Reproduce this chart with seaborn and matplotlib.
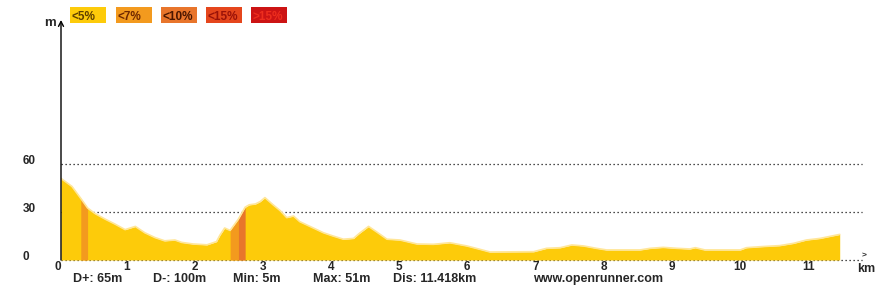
import numpy as np
import pandas as pd
import matplotlib
matplotlib.use("Agg")
import matplotlib.pyplot as plt
import seaborn as sns
from matplotlib.patches import Rectangle
from matplotlib.transforms import ScaledTranslation

# ---------------- data ----------------
km = [0.00, 0.16, 0.29, 0.39, 0.50, 0.65, 0.79, 0.94, 1.09, 1.23, 1.38, 1.52,
      1.67, 1.77, 1.94, 2.14, 2.28, 2.33, 2.40, 2.48, 2.60, 2.70, 2.76, 2.85,
      2.92, 2.99, 3.11, 3.21, 3.31, 3.41, 3.50, 3.65, 3.85, 3.99, 4.14, 4.29,
      4.37, 4.51, 4.63, 4.78, 4.97, 5.22, 5.46, 5.70, 5.95, 6.14, 6.29, 6.93,
      7.12, 7.32, 7.49, 7.66, 7.85, 8.00, 8.49, 8.64, 8.83, 9.03, 9.22, 9.30,
      9.44, 9.96, 10.05, 10.25, 10.54, 10.74, 10.93, 11.13, 11.418]
elev = [51, 46, 38.5, 32.5, 29, 25.5, 22.5, 19, 21, 17, 14, 12,
        12.5, 11, 10, 9.5, 11.5, 15.5, 20, 18.5, 25.5, 33, 34.5, 35,
        36.5, 39, 34.5, 31, 26.5, 27.5, 24, 21, 17, 15, 13, 13.5,
        16.5, 21, 17.5, 13, 12.5, 10, 9.8, 10.8, 8.8, 6.7, 5, 5.2,
        7.3, 7.7, 9.4, 8.8, 7.3, 6.3, 6.3, 7.3, 7.9, 7.3, 6.9, 7.7,
        6.3, 6.3, 7.7, 8.3, 9, 10.4, 12.5, 13.5, 16]

slope_classes = ["<5%", "<7%", "<10%", "<15%", ">15%"]
class_colors = ["#FDCB0A", "#F39A1E", "#E8752B", "#E5461C", "#CC1414"]
class_text_colors = ["#5e4000", "#702800", "#4a1600", "#9a1208", "#EE2E1E"]

band_start = [0.29, 2.48, 2.60]
band_end = [0.39, 2.60, 2.70]
band_class = ["<7%", "<7%", "<10%"]

xticks = list(range(12))
yticks = [0, 30, 60]

stats_labels = ["D+: 65m", "D-: 100m", "Min: 5m", "Max: 51m",
                "Dis: 11.418km", "www.openrunner.com"]

# ---------------- style ----------------
sns.set_style("white")
plt.rcParams["font.family"] = ["Liberation Sans", "DejaVu Sans"]
plt.rcParams["font.weight"] = "bold"

W, H = 887, 296
fig = plt.figure(figsize=(W / 100, H / 100), dpi=100)
fig.patch.set_facecolor("white")
ax = fig.add_axes([61 / W, 36 / H, 801 / W, 240 / H])
ax.set_facecolor("white")

df = pd.DataFrame({"km": km, "elev": elev})

ax.fill_between(df["km"], df["elev"], 0, color=class_colors[0], lw=0, zorder=2)
for s, e, c in zip(band_start, band_end, band_class):
    mask = (df["km"] >= s - 1e-9) & (df["km"] <= e + 1e-9)
    ax.fill_between(df["km"], df["elev"], 0, where=mask,
                    color=class_colors[slope_classes.index(c)], lw=0, zorder=3)
sns.lineplot(data=df, x="km", y="elev", color="#FFE699", lw=1.2, ax=ax,
             zorder=4, estimator=None, sort=False)

ax.set_xlim(0, 801 / 68.2)
ax.set_ylim(0, 150)
ax.set_xticks(xticks)
ax.set_xticklabels([str(t) for t in xticks])
ax.set_yticks(yticks)
ax.set_yticklabels([str(t) for t in yticks])
ax.set_xlabel("")
ax.set_ylabel("")

ax.grid(False)
ax.yaxis.grid(True, color="#111111", linestyle=(0, (1, 2.2)), lw=0.9)
ax.set_axisbelow(True)
for gl in ax.get_ygridlines():
    gl.set_clip_on(False)
for sp in ax.spines.values():
    sp.set_visible(False)

ax.tick_params(axis="both", length=0)
ax.tick_params(axis="x", pad=0.5, labelsize=8.5)
ax.tick_params(axis="y", pad=27.4, labelsize=8.5)
for lbl in ax.get_yticklabels():
    lbl.set_horizontalalignment("left")
    lbl.set_verticalalignment("baseline")
    lbl.set_fontweight("bold")
shift = ScaledTranslation(-3 / 100, 0, fig.dpi_scale_trans)
for lbl in ax.get_xticklabels():
    lbl.set_fontweight("bold")
    lbl.set_transform(lbl.get_transform() + shift)

# y axis with arrow
ax.annotate("", xy=(0, 1.0), xycoords="axes fraction", xytext=(0, 0),
            textcoords="axes fraction",
            arrowprops=dict(arrowstyle="->,head_length=0.35,head_width=0.18",
                            color="black", lw=1.0, shrinkA=0, shrinkB=0),
            annotation_clip=False, zorder=6)

fig.text(44 / W, (H - 26) / H, "m", fontsize=9.5, fontweight="bold",
         va="baseline", ha="left")
fig.text(862 / W, (H - 256) / H, ">", fontsize=6, va="center", ha="left")
fig.text(857 / W, (H - 272) / H, "km", fontsize=9, fontweight="bold",
         va="baseline", ha="left")

# legend boxes
for i, (cls, col, tc) in enumerate(zip(slope_classes, class_colors, class_text_colors)):
    x0 = 70.5 + 45.1 * i
    fig.patches.append(Rectangle((x0 / W, (H - 23) / H), 36 / W, 16 / H,
                                 transform=fig.transFigure, color=col, lw=0))
    fig.text((x0 + 1.5) / W, (H - 19.5) / H, cls, color=tc, fontsize=8.5,
             fontweight="bold", va="baseline", ha="left")

# stats line
stat_x = [73, 153, 233, 313, 393, 533]
for x, s in zip(stat_x, stats_labels):
    fig.text(x / W, (H - 282) / H, s, fontsize=9, fontweight="bold",
             va="baseline", ha="left")

fig.savefig("out.png", dpi=100, facecolor="white")
